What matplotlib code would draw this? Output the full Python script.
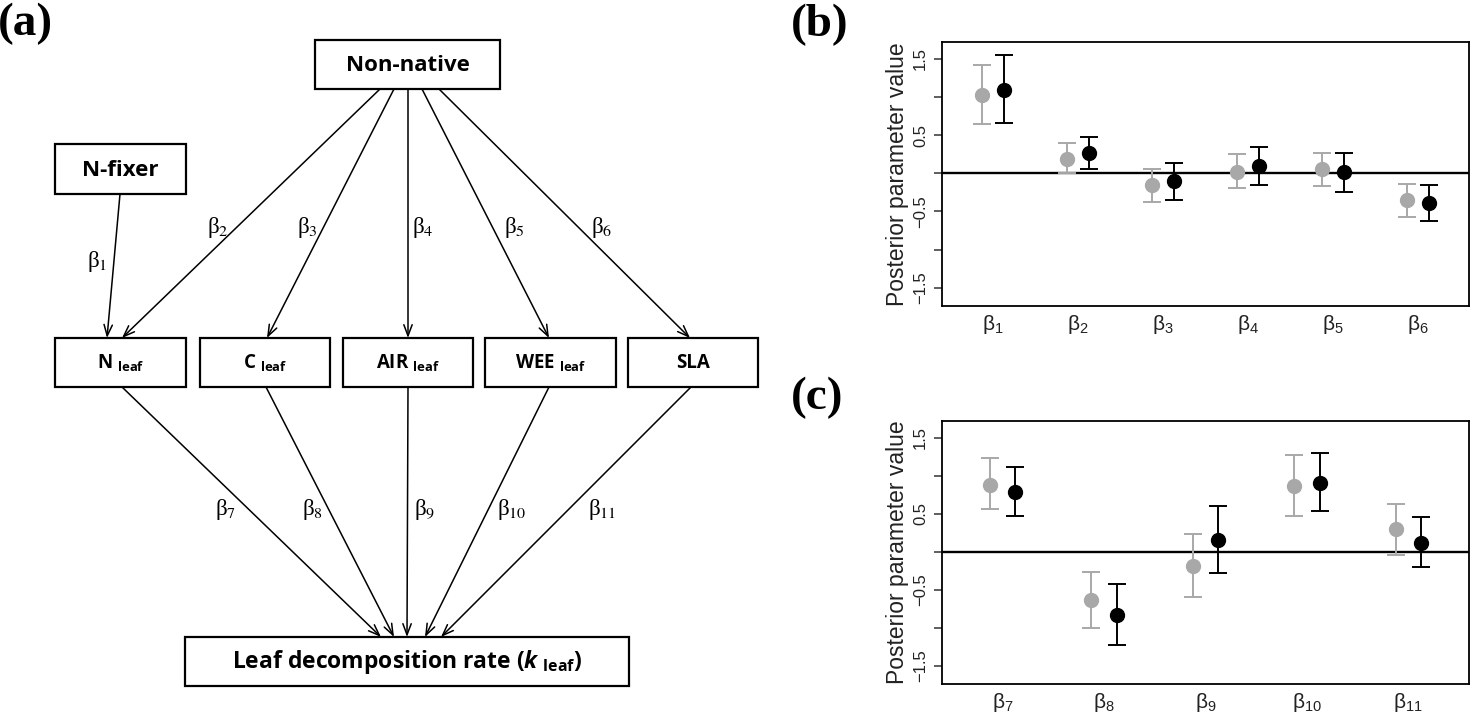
"""Path diagram of leaf traits and posterior estimates of the path coefficients."""

import os
import matplotlib
matplotlib.use('Agg')
import matplotlib.pyplot as plt
from matplotlib import font_manager
from matplotlib.patches import Rectangle


def bold_family(candidates):
    """First family in the list that ships a real bold face."""
    for fam in candidates:
        try:
            path = font_manager.findfont(
                font_manager.FontProperties(family=fam, weight='bold'),
                fallback_to_default=False)
        except ValueError:
            continue
        name = os.path.basename(path).lower()
        if 'bold' in name or name.endswith('bd.ttf'):
            return fam
    return 'DejaVu Sans'


BOX_FONT = bold_family(['Noto Sans', 'Open Sans', 'Lato', 'Roboto',
                        'Liberation Sans'])

plt.rcParams['font.family'] = ['Liberation Sans', 'DejaVu Sans']
plt.rcParams['mathtext.fontset'] = 'custom'
plt.rcParams['mathtext.rm'] = 'Liberation Sans'
plt.rcParams['mathtext.bf'] = BOX_FONT + ':bold'
plt.rcParams['mathtext.bfit'] = BOX_FONT + ':bold:italic'

# Path coefficients for the trait model (b) and the decomposition model (c)
params_b = ['1', '2', '3', '4', '5', '6']
grey_b = [1.02, 0.19, -0.16, 0.02, 0.05, -0.35]
grey_b_lo = [0.64, 0.00, -0.38, -0.20, -0.17, -0.57]
grey_b_hi = [1.42, 0.39, 0.05, 0.25, 0.26, -0.14]
black_b = [1.085, 0.27, -0.10, 0.09, 0.02, -0.39]
black_b_lo = [0.66, 0.05, -0.35, -0.15, -0.24, -0.62]
black_b_hi = [1.55, 0.48, 0.14, 0.35, 0.27, -0.15]

params_c = ['7', '8', '9', '10', '11']
grey_c = [0.88, -0.63, -0.19, 0.87, 0.30]
grey_c_lo = [0.56, -1.00, -0.60, 0.47, -0.04]
grey_c_hi = [1.23, -0.27, 0.23, 1.27, 0.63]
black_c = [0.78, -0.83, 0.16, 0.91, 0.12]
black_c_lo = [0.47, -1.23, -0.28, 0.53, -0.20]
black_c_hi = [1.12, -0.43, 0.60, 1.30, 0.46]

# Diagram nodes (label, x0, y0, x1, y1, font size) in figure pixels, y down
nodes = {
    'nonnative': ('Non-native', 315, 40, 500, 89, 16),
    'nfixer': ('N-fixer', 55, 144, 186, 194, 16),
    'n': (r'N $_{\mathbf{leaf}}$', 55, 338, 186, 387, 13.5),
    'c': (r'C $_{\mathbf{leaf}}$', 200, 338, 330, 387, 13.5),
    'air': (r'AIR $_{\mathbf{leaf}}$', 343, 338, 473, 387, 13.5),
    'wee': (r'WEE $_{\mathbf{leaf}}$', 485, 338, 616, 387, 13.5),
    'sla': ('SLA', 628, 338, 758, 387, 13.5),
    'k': (r'Leaf decomposition rate ($\mathbfit{k}$ $_{\mathbf{leaf}}$)',
          185, 637, 629, 686, 16.5),
}

# Edges: (start, end, label, label position)
edges = [
    ((120, 194), (107, 338), '1', (97, 262)),
    ((380, 89), (122, 338), '2', (218, 227)),
    ((394, 89), (267, 338), '3', (307, 227)),
    ((408, 89), (408, 338), '4', (423, 227)),
    ((422, 89), (549, 338), '5', (514, 227)),
    ((439, 89), (690, 338), '6', (602, 227)),
    ((122, 387), (381, 637), '7', (226, 510)),
    ((266, 387), (394, 637), '8', (313, 510)),
    ((408, 387), (407, 637), '9', (425, 510)),
    ((549, 387), (425, 637), '10', (512, 510)),
    ((691, 387), (441, 637), '11', (602, 510)),
]

W, H = 1472, 719
fig = plt.figure(figsize=(W / 100, H / 100), dpi=100)

# ---- (a) path diagram, drawn in pixel coordinates
ax_a = fig.add_axes([0, 0, 1, 1])
ax_a.set_xlim(0, W)
ax_a.set_ylim(H, 0)
ax_a.axis('off')

for key, (label, x0, y0, x1, y1, size) in nodes.items():
    ax_a.add_patch(Rectangle((x0, y0), x1 - x0, y1 - y0, fill=False,
                             ec='k', lw=1.6))
    ax_a.text((x0 + x1) / 2, (y0 + y1) / 2 + 1, label, ha='center', va='center',
              fontsize=size, fontweight='bold', family=BOX_FONT)

for start, end, sub, (lx, ly) in edges:
    ax_a.annotate('', xy=end, xytext=start,
                  arrowprops=dict(arrowstyle='->,head_length=0.8,head_width=0.3',
                                  lw=1.1, color='k', shrinkA=0, shrinkB=0))
    ax_a.text(lx, ly, 'β$_{%s}$' % sub, ha='center', va='center',
              fontsize=16.5, family='Liberation Serif', math_fontfamily='stix')

for txt, x, y in [('(a)', -2, 24), ('(b)', 791, 25), ('(c)', 791, 398)]:
    ax_a.text(x, y, txt, ha='left', va='center', fontsize=34,
              fontweight='bold', family='Liberation Serif')


def coef_panel(rect, params, grey, grey_lo, grey_hi, black, black_lo, black_hi):
    ax = fig.add_axes(rect)
    pos = list(range(1, len(params) + 1))
    off = 0.125
    for shift, mid, lo, hi, col in [(-off, grey, grey_lo, grey_hi, '#a8a8a8'),
                                    (off, black, black_lo, black_hi, 'k')]:
        xs = [p + shift for p in pos]
        err = [[m - l for m, l in zip(mid, lo)], [h - m for m, h in zip(mid, hi)]]
        ax.errorbar(xs, mid, yerr=err, fmt='o', color=col, ms=10, capsize=6.5,
                    capthick=1.4, elinewidth=1.4)
    ax.axhline(0, color='k', lw=1.7, zorder=0)
    ax.set_xlim(0.6 - off * 1.6, len(params) + 0.4 + off * 1.6)
    ax.set_ylim(-1.74, 1.72)
    ax.set_yticks([-1.5, -1.0, -0.5, 0.0, 0.5, 1.0, 1.5])
    ax.set_yticklabels(['\u22121.5', '', '\u22120.5', '', '0.5', '', '1.5'],
                       rotation=90, va='center', fontsize=12, color='#222222')
    ax.set_xticks(pos)
    ax.set_xticklabels(['β$_{%s}$' % p for p in params], fontsize=15,
                       color='#222222')
    ax.tick_params(axis='y', direction='out', length=6, width=1.1, pad=4,
                   color='#333333')
    ax.tick_params(axis='x', length=0, pad=5)
    ax.set_ylabel('Posterior parameter value', fontsize=16.5, labelpad=3,
                  color='#222222')
    for s in ax.spines.values():
        s.set_linewidth(1.3)
    return ax


coef_panel([942 / W, 1 - 306 / H, 527 / W, 264 / H], params_b,
           grey_b, grey_b_lo, grey_b_hi, black_b, black_b_lo, black_b_hi)
coef_panel([942 / W, 1 - 684 / H, 527 / W, 263 / H], params_c,
           grey_c, grey_c_lo, grey_c_hi, black_c, black_c_lo, black_c_hi)

fig.savefig('out.png', dpi=100)
